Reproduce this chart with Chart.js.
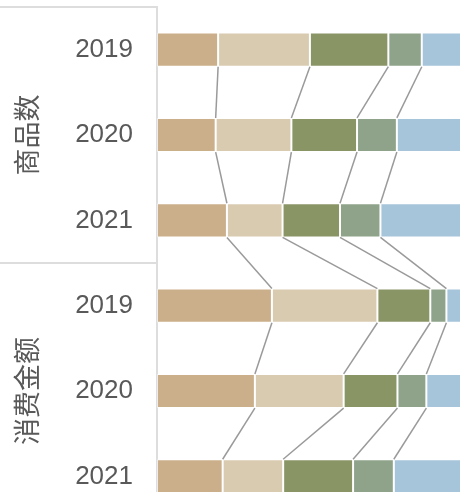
<!DOCTYPE html>
<html>
<head>
<meta charset="utf-8">
<script src="https://cdn.jsdelivr.net/npm/chart.js@4"></script>
<style>
  html,body{margin:0;padding:0;background:#fff;overflow:hidden;}
  canvas{display:block;}
</style>
</head>
<body>
<canvas id="c" width="461" height="520" style="width:461px;height:520px;"></canvas>
<script>
// --- Data (share %) ---
const years  = ['2019','2020','2021','2019','2020','2021'];
const groups = ['商品数','消费金额'];
const seriesA = [20.1, 19.3, 23.0, 37.8, 32.2, 21.6];
const seriesB = [30.2, 24.9, 18.3, 34.7, 29.2, 19.9];
const seriesC = [25.8, 21.6, 18.9, 17.4, 17.7, 23.0];
const seriesD = [11.0, 13.1, 13.3,  5.3,  9.5, 13.4];
const seriesE = [12.9, 21.1, 26.5,  4.8, 11.4, 22.1];

const colors = ['#CBAF8A','#D9CBB0','#8A9566','#8EA38A','#A6C4DA'];
const allSeries = [seriesA, seriesB, seriesC, seriesD, seriesE];

// --- connector lines between consecutive bars ---
const connectors = {
  id:'connectors',
  afterDatasetsDraw(chart){
    const ctx = chart.ctx;
    ctx.save();
    ctx.strokeStyle = '#9a9a9a';
    ctx.lineWidth = 1.5;
    for(let k=0;k<allSeries.length-1;k++){
      const els = chart.getDatasetMeta(k).data;
      for(let i=0;i<els.length-1;i++){
        const a = els[i].getProps(['x','y','height'],true);
        const b = els[i+1].getProps(['x','y','height'],true);
        ctx.beginPath();
        ctx.moveTo(a.x, a.y + a.height/2);
        ctx.lineTo(b.x, b.y - b.height/2);
        ctx.stroke();
      }
    }
    ctx.restore();
  }
};

// --- group labels + separators on the left ---
const groupAxis = {
  id:'groupAxis',
  afterDraw(chart){
    const ctx = chart.ctx, y = chart.scales.y;
    const left = y.right;
    const step = (y.bottom - y.top)/years.length;
    ctx.save();
    ctx.strokeStyle = '#dddddd';
    ctx.lineWidth = 2;
    [0,3,6].forEach(n=>{
      const yy = y.top + n*step;
      ctx.beginPath(); ctx.moveTo(0,yy); ctx.lineTo(left,yy); ctx.stroke();
    });
    ctx.fillStyle = '#595959';
    ctx.font = '27px "Noto Sans CJK SC", sans-serif';
    ctx.textAlign = 'center';
    ctx.textBaseline = 'middle';
    groups.forEach((g,gi)=>{
      const cy = y.top + (gi*3+1.5)*step;
      ctx.save();
      ctx.translate(27, cy);
      ctx.rotate(-Math.PI/2);
      ctx.fillText(g, 0, 0);
      ctx.restore();
    });
    ctx.restore();
  }
};

new Chart(document.getElementById('c'), {
  type:'bar',
  data:{
    labels: years,
    datasets: allSeries.map((s,i)=>({
      data: s,
      backgroundColor: colors[i],
      borderColor: 'rgba(255,255,255,0.45)',
      borderWidth: 1,
      borderSkipped: false,
      barPercentage: 0.4,
      categoryPercentage: 1
    }))
  },
  options:{
    indexAxis:'y',
    animation:false,
    responsive:false,
    layout:{ padding:{ top:7, bottom:1, left:0, right:0 } },
    plugins:{ legend:{display:false}, tooltip:{enabled:false} },
    scales:{
      x:{ stacked:true, min:0, max:100, display:false },
      y:{
        stacked:true,
        grid:{ display:false, drawTicks:false },
        border:{ display:true, color:'#dddddd', width:2 },
        ticks:{ color:'#595959', padding:24, font:{ size:26, family:'"Liberation Sans", Arial, sans-serif' } },
        afterFit(scale){ scale.width = 157; scale.paddingTop = 0; scale.paddingBottom = 0; }
      }
    }
  },
  plugins:[connectors, groupAxis]
});
</script>
</body>
</html>
